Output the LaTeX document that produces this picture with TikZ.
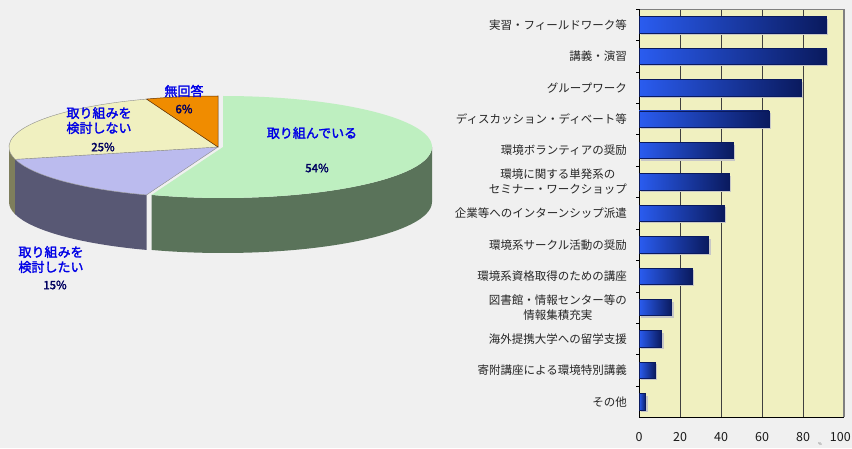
\documentclass[tikz,border=0pt]{standalone}
\usepackage{fontspec}
\setmainfont{Noto Sans CJK JP}[AutoFakeBold=2]
\usetikzlibrary{calc}

\definecolor{bgGray}{HTML}{F0F0F0}
\definecolor{plotYellow}{HTML}{F0F0C0}
\definecolor{barLight}{HTML}{2A5CF0}
\definecolor{barDark}{HTML}{0A1A5E}
\definecolor{labBlue}{HTML}{0000E6}
\definecolor{pctNavy}{HTML}{000060}
\definecolor{topGreen}{HTML}{BEEFC0}
\definecolor{sideGreen}{HTML}{5A735A}
\definecolor{topLav}{HTML}{BBBBEE}
\definecolor{sideLav}{HTML}{585874}
\definecolor{topYel}{HTML}{F0F0C0}
\definecolor{sideYel}{HTML}{7E7E5C}
\definecolor{topOrg}{HTML}{F08C00}
\definecolor{edgeOrg}{HTML}{603000}

\begin{document}
\begin{tikzpicture}[
    x=1pt, y=1pt,
    catlabel/.style={anchor=east, align=center, font=\fontsize{11.5}{15}\selectfont, text=black!85, inner sep=0pt},
    ticklabel/.style={font=\fontsize{12.5}{14}\selectfont, text=black!90, inner sep=0pt},
    pielabel/.style={align=center, font=\bfseries\fontsize{13}{15}\selectfont, text=labBlue, inner sep=0pt},
    pctlabel/.style={font=\bfseries\fontsize{11.5}{13}\selectfont, text=pctNavy, inner sep=0pt},
    bar/.style={draw=barDark, line width=0.8pt, left color=barLight, right color=barDark},
    barshadow/.style={fill=black!22},
    gridline/.style={draw=black!75, line width=0.8pt}
  ]
    \fill[bgGray] (0,0) rectangle (852,448);
    \useasboundingbox (0,0) rectangle (852,448);

    % pie chart
    \coordinate (pieCtr) at (218,301);
    \coordinate (greenCtr) at (223,301);
    \def\rx{209}
    \def\ry{51}
    \def\dep{55}

    \fill[sideYel] ($(pieCtr)+(-180:{\rx} and {\ry})$) arc[start angle=-180, end angle=-166, x radius=\rx, y radius=\ry]
      -- ++(0,-\dep) arc[start angle=-166, end angle=-180, x radius=\rx, y radius=\ry] -- cycle;
    \fill[sideLav] ($(pieCtr)+(-166:{\rx} and {\ry})$) arc[start angle=-166, end angle=-110, x radius=\rx, y radius=\ry]
      -- ++(0,-\dep) arc[start angle=-110, end angle=-166, x radius=\rx, y radius=\ry] -- cycle;
    \fill[sideGreen] ($(greenCtr)+(-110:{\rx} and {\ry})$) arc[start angle=-110, end angle=0, x radius=\rx, y radius=\ry]
      -- ++(0,-\dep) arc[start angle=0, end angle=-110, x radius=\rx, y radius=\ry] -- cycle;

    \fill[topGreen] (greenCtr) -- ($(greenCtr)+(90:{\rx} and {\ry})$)
      arc[start angle=90, end angle=-110, x radius=\rx, y radius=\ry] -- cycle;
    \filldraw[fill=topLav, draw=black!45, line width=0.4pt] (pieCtr) -- ($(pieCtr)+(-110:{\rx} and {\ry})$)
      arc[start angle=-110, end angle=-166, x radius=\rx, y radius=\ry] -- cycle;
    \filldraw[fill=topYel, draw=black!45, line width=0.4pt] (pieCtr) -- ($(pieCtr)+(-166:{\rx} and {\ry})$)
      arc[start angle=-166, end angle=-250, x radius=\rx, y radius=\ry] -- cycle;
    \filldraw[fill=topOrg, draw=edgeOrg, line width=0.5pt] (pieCtr) -- ($(pieCtr)+(110:{\rx} and {\ry})$)
      arc[start angle=110, end angle=90, x radius=\rx, y radius=\ry] -- cycle;

    \node[pielabel] (noAnswer) at (184,357) {無回答};
    \node[pctlabel] (noAnswerPct) at (184,339) {6\%};
    \node[pielabel] (notPlanning) at (99,327.5) {取り組みを\\検討しない};
    \node[pctlabel] (notPlanningPct) at (103,301) {25\%};
    \node[pielabel] (doing) at (312,315) {取り組んでいる};
    \node[pctlabel] (doingPct) at (317,280) {54\%};
    \node[pielabel] (wantPlan) at (51,188.5) {取り組みを\\検討したい};
    \node[pctlabel] (wantPlanPct) at (55,163) {15\%};

    % bar chart
    \fill[plotYellow] (639,31) rectangle (844,438.7);
    \foreach \v in {20,40,60,80}
      \draw[gridline] ({639+2.05*\v},31) -- ({639+2.05*\v},438.7);
    \draw[black!50, line width=1.2pt] (639,438.7) -- (844,438.7) -- (844,31);
    \draw[black, line width=1pt] (639,438.7) -- (639,31) -- (844,31);
    \foreach \k in {0,...,12}
      \draw[black, line width=0.8pt] (639,{438.7-31.4*\k}) -- ++(-3,0);

    \foreach \val/\lab [count=\i] in {
        91.2/{実習・フィールドワーク等},
        91.2/{講義・演習},
        79.2/{グループワーク},
        63.5/{ディスカッション・ディベート等},
        46/{環境ボランティアの奨励},
        44/{環境に関する単発系の\\セミナー・ワークショップ},
        41.5/{企業等へのインターンシップ派遣},
        34/{環境系サークル活動の奨励},
        26/{環境系資格取得のための講座},
        16/{図書館・情報センター等の\\情報集積充実},
        11/{海外提携大学への留学支援},
        8/{寄附講座による環境特別講義},
        3.3/{その他}} {
      \pgfmathsetmacro\yc{438.7-31.4*(\i-0.5)}
      \fill[barshadow] (641,\yc-10) rectangle ({641+2.05*\val},\yc+6);
      \draw[bar] (639,\yc-8.2) rectangle ({639+2.05*\val},\yc+8.2);
      \node[catlabel] (cat\i) at (627,\yc) {\lab};
    }

    \foreach \v in {0,20,...,80}
      \node[ticklabel] (tick\v) at ({639+2.05*\v},11) {\v};
    \node[ticklabel, anchor=east] (tick100) at (851,11) {100};
    \node[font=\fontsize{4}{4}\selectfont, text=black!60, inner sep=0pt] (unitMark) at (820,4) {\%};
  \end{tikzpicture}
\end{document}
